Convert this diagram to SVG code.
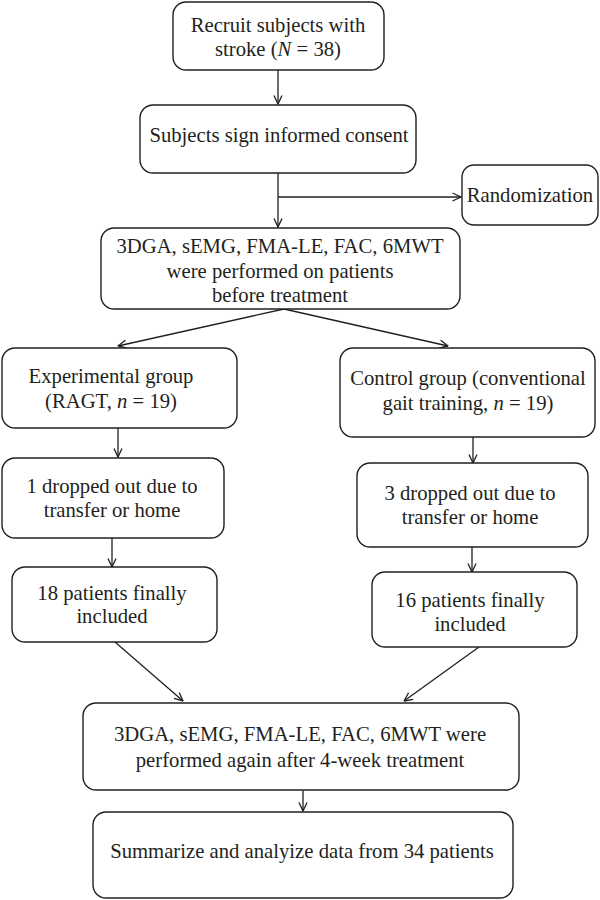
<svg xmlns="http://www.w3.org/2000/svg" width="600" height="900" viewBox="0 0 600 900">
<style>
.box{fill:#fff;stroke:#231f20;stroke-width:1.4}
.t{font-family:"Liberation Serif","Times New Roman",serif;font-size:20.7px;fill:#231f20;text-anchor:middle}
.c{fill:none;stroke:#231f20;stroke-width:1.3}
</style>
<defs>
<marker id="a" viewBox="0 0 10 10" refX="9.5" refY="5" markerWidth="10" markerHeight="10" markerUnits="userSpaceOnUse" orient="auto">
<path d="M1,1 L9.5,5 L1,9" fill="none" stroke="#231f20" stroke-width="1.3"/>
</marker>
</defs>
<rect width="600" height="900" fill="#fff"/>
<g id="connectors" class="c">
<line x1="278" y1="70" x2="278" y2="104" marker-end="url(#a)"/>
<line x1="278" y1="173" x2="278" y2="227" marker-end="url(#a)"/>
<line x1="278" y1="197" x2="461" y2="197" marker-end="url(#a)"/>
<line x1="284" y1="309" x2="118" y2="346" marker-end="url(#a)"/>
<line x1="284" y1="309" x2="448" y2="346" marker-end="url(#a)"/>
<line x1="118" y1="428" x2="118" y2="457" marker-end="url(#a)"/>
<line x1="473" y1="437" x2="473" y2="463" marker-end="url(#a)"/>
<line x1="112" y1="538" x2="112" y2="567" marker-end="url(#a)"/>
<line x1="472" y1="547" x2="472" y2="572" marker-end="url(#a)"/>
<line x1="115" y1="642" x2="183" y2="701" marker-end="url(#a)"/>
<line x1="479" y1="647" x2="404" y2="701" marker-end="url(#a)"/>
<line x1="303" y1="790" x2="303" y2="811" marker-end="url(#a)"/>
</g>
<g id="recruit">
<rect class="box" x="173" y="2" width="211" height="68" rx="13"/>
<text class="t" x="278" y="32">Recruit subjects with</text>
<text class="t" x="278" y="56">stroke (<tspan font-style="italic">N</tspan> = 38)</text>
</g>
<g id="consent">
<rect class="box" x="140" y="105" width="276" height="68" rx="13"/>
<text class="t" x="279" y="142">Subjects sign informed consent</text>
</g>
<g id="randomization">
<rect class="box" x="462" y="165" width="136" height="60" rx="12"/>
<text class="t" x="530" y="202">Randomization</text>
</g>
<g id="baseline">
<rect class="box" x="101" y="228" width="359" height="81" rx="13"/>
<text class="t" x="280" y="253">3DGA, sEMG, FMA-LE, FAC, 6MWT</text>
<text class="t" x="280" y="278">were performed on patients</text>
<text class="t" x="280" y="302">before treatment</text>
</g>
<g id="experimental">
<rect class="box" x="2" y="348" width="235" height="80" rx="13"/>
<text class="t" x="111" y="383">Experimental group</text>
<text class="t" x="111" y="408">(RAGT, <tspan font-style="italic">n</tspan> = 19)</text>
</g>
<g id="control">
<rect class="box" x="340" y="348" width="255" height="89" rx="13"/>
<text class="t" x="468" y="385">Control group (conventional</text>
<text class="t" x="468" y="410">gait training, <tspan font-style="italic">n</tspan> = 19)</text>
</g>
<g id="drop1">
<rect class="box" x="2" y="458" width="222" height="80" rx="13"/>
<text class="t" x="112" y="493">1 dropped out due to</text>
<text class="t" x="112" y="517">transfer or home</text>
</g>
<g id="drop3">
<rect class="box" x="357" y="463" width="231" height="84" rx="13"/>
<text class="t" x="470" y="500">3 dropped out due to</text>
<text class="t" x="470" y="524">transfer or home</text>
</g>
<g id="final18">
<rect class="box" x="12" y="567" width="205" height="75" rx="13"/>
<text class="t" x="112" y="600">18 patients finally</text>
<text class="t" x="112" y="623">included</text>
</g>
<g id="final16">
<rect class="box" x="372" y="572" width="205" height="75" rx="13"/>
<text class="t" x="470" y="607">16 patients finally</text>
<text class="t" x="470" y="631">included</text>
</g>
<g id="followup">
<rect class="box" x="83" y="703" width="436" height="87" rx="13"/>
<text class="t" x="300" y="741">3DGA, sEMG, FMA-LE, FAC, 6MWT were</text>
<text class="t" x="300" y="767">performed again after 4-week treatment</text>
</g>
<g id="summary">
<rect class="box" x="93" y="812" width="420" height="86" rx="13"/>
<text class="t" x="302" y="858">Summarize and analyize data from 34 patients</text>
</g>
</svg>
